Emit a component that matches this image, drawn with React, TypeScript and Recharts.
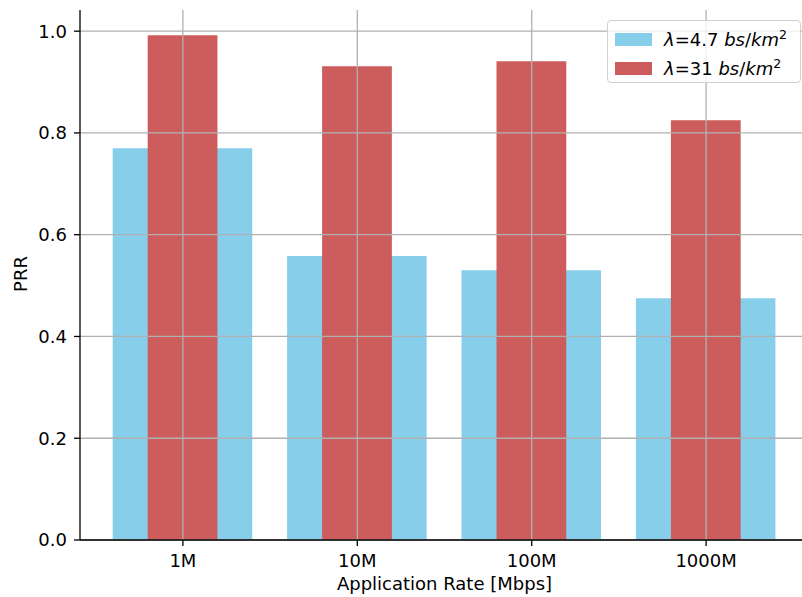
import React from 'react';
import { BarChart, Bar, XAxis, YAxis, ReferenceLine } from 'recharts';

const categories = ['1M', '10M', '100M', '1000M'];
const prrLowDensity = [0.770, 0.558, 0.530, 0.475];
const prrHighDensity = [0.992, 0.931, 0.941, 0.825];
const yTicks = [0, 0.2, 0.4, 0.6, 0.8, 1.0];

const data = categories.map((name, i) => ({
  idx: i,
  name,
  low: prrLowDensity[i],
  high: prrHighDensity[i],
}));

const FONT = '"DejaVu Sans", sans-serif';
const FS = 18;
const GRID = '#b0b0b0';
const SKY = '#87CEEB';
const RED = '#CD5C5C';

const CHART_W = 809;
const CHART_H = 597;
const LEFT = 80;
const TOP = 10;
const BOTTOM_AXIS = 57;
const X_DOMAIN: [number, number] = [-0.59, 3.59];
const unitPx = (CHART_W - LEFT) / (X_DOMAIN[1] - X_DOMAIN[0]);

const LegendLabel = ({ value }: { value: string }) => (
  <span>
    <i>λ</i>={value} <i>bs</i>/<i>km</i>
    <sup style={{ fontSize: '0.7em', verticalAlign: '0.55em', lineHeight: 0 }}>2</sup>
  </span>
);

const legendEntries = [
  { color: SKY, value: '4.7' },
  { color: RED, value: '31' },
];

const ChartLegend = () => (
  <div
    style={{
      position: 'absolute',
      left: 607,
      top: 20,
      width: 194,
      height: 63,
      boxSizing: 'border-box',
      border: '1.3px solid #d0d0d0',
      borderRadius: 4,
      background: 'rgba(255,255,255,0.8)',
      fontFamily: FONT,
      fontSize: FS,
      color: '#000',
      padding: '4px 0 0 7px',
      whiteSpace: 'nowrap',
    }}
  >
    {legendEntries.map((e) => (
      <div key={e.value} style={{ display: 'flex', alignItems: 'center', height: 29 }}>
        <span style={{ display: 'inline-block', width: 37, height: 13, background: e.color, marginRight: 12 }} />
        <LegendLabel value={e.value} />
      </div>
    ))}
  </div>
);

export default function App() {
  return (
    <div style={{ position: 'absolute', left: 0, top: 0, width: 802, height: 597, overflow: 'hidden', background: '#fff' }}>
      <BarChart
        width={CHART_W}
        height={CHART_H}
        data={data}
        margin={{ top: TOP, right: 0, bottom: 0, left: 0 }}
      >
        <XAxis
          xAxisId="main"
          dataKey="idx"
          type="number"
          domain={X_DOMAIN}
          ticks={[0, 1, 2, 3]}
          tickFormatter={(i: number) => categories[i]}
          height={BOTTOM_AXIS}
          axisLine={{ stroke: '#000', strokeWidth: 1.3 }}
          tickLine={{ stroke: '#000', strokeWidth: 1.3 }}
          tickSize={6}
          tickMargin={8}
          tick={{ fill: '#000', fontSize: FS, fontFamily: FONT }}
          label={{
            content: (props: any) => {
              const vb = props.viewBox;
              return (
                <text
                  x={vb.x + vb.width / 2}
                  y={590}
                  textAnchor="middle"
                  fill="#000"
                  fontSize={FS}
                  fontFamily={FONT}
                >
                  Application Rate [Mbps]
                </text>
              );
            },
          }}
        />
        <XAxis
          xAxisId="top"
          dataKey="idx"
          type="number"
          orientation="top"
          domain={X_DOMAIN}
          height={0}
          tick={false}
          tickLine={false}
          axisLine={{ stroke: '#000', strokeWidth: 1.3 }}
        />
        <YAxis
          type="number"
          domain={[0, 1.0416]}
          ticks={yTicks}
          tickFormatter={(v: number) => v.toFixed(1)}
          width={LEFT}
          axisLine={{ stroke: '#000', strokeWidth: 1.3 }}
          tickLine={{ stroke: '#000', strokeWidth: 1.3 }}
          tickSize={6}
          tickMargin={7}
          tick={{ fill: '#000', fontSize: FS, fontFamily: FONT }}
          label={{
            content: () => (
              <text
                x={27}
                y={274}
                transform="rotate(-90 27 274)"
                textAnchor="middle"
                fill="#000"
                fontSize={FS}
                fontFamily={FONT}
              >
                PRR
              </text>
            ),
          }}
        />
        <Bar
          xAxisId="main"
          dataKey="low"
          name="low"
          fill={SKY}
          barSize={0.8 * unitPx}
          isAnimationActive={false}
        />
        <Bar
          xAxisId="top"
          dataKey="high"
          name="high"
          fill={RED}
          barSize={0.4 * unitPx}
          isAnimationActive={false}
        />
        {yTicks.map((t) => (
          <ReferenceLine key={'y' + t} xAxisId="main" y={t} stroke={GRID} strokeWidth={1.3} />
        ))}
        {categories.map((c, i) => (
          <ReferenceLine key={'x' + c} xAxisId="main" x={i} stroke={GRID} strokeWidth={1.3} />
        ))}
      </BarChart>
      <ChartLegend />
    </div>
  );
}
